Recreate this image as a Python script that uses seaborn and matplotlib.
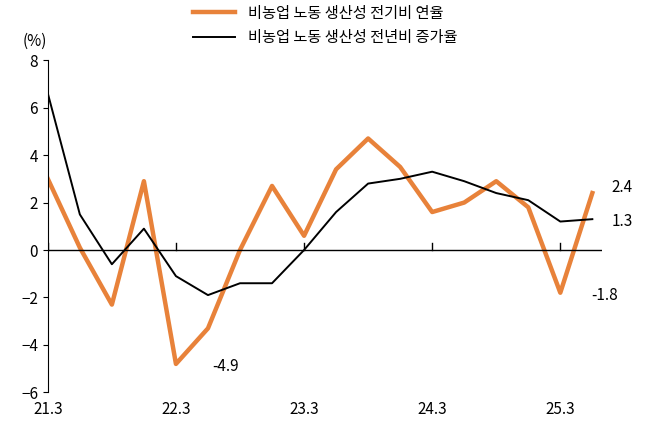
import matplotlib
matplotlib.use('Agg')
import matplotlib.pyplot as plt
from matplotlib import font_manager
import seaborn as sns
import pandas as pd

cjk = [f.name for f in font_manager.fontManager.ttflist if 'CJK' in f.name]
kr = [n for n in cjk if 'KR' in n] or cjk
plt.rcParams['font.family'] = (kr[:1] if kr else []) + ['DejaVu Sans']

quarters = list(range(18))
tick_pos = [0, 4, 8, 12, 16]
tick_labels = ['21.3', '22.3', '23.3', '24.3', '25.3']
qoq = [3.0, 0.1, -2.3, 2.9, -4.8, -3.3, 0.0, 2.7, 0.6, 3.4, 4.7, 3.5, 1.6, 2.0, 2.9, 1.8, -1.8, 2.4]
yoy = [6.6, 1.5, -0.6, 0.9, -1.1, -1.9, -1.4, -1.4, 0.0, 1.6, 2.8, 3.0, 3.3, 2.9, 2.4, 2.1, 1.2, 1.3]
name_qoq = '비농업 노동 생산성 전기비 연율'
name_yoy = '비농업 노동 생산성 전년비 증가율'

df = pd.DataFrame({'q': quarters, name_qoq: qoq, name_yoy: yoy})

fig, ax = plt.subplots(figsize=(6.55, 4.36), dpi=100)
fig.subplots_adjust(left=0.073, right=0.919, top=0.862, bottom=0.1)
sns.lineplot(data=df, x='q', y=name_qoq, color='#E8823A', linewidth=3.2, ax=ax, label=name_qoq)
sns.lineplot(data=df, x='q', y=name_yoy, color='black', linewidth=1.4, ax=ax, label=name_yoy)

ax.set_xlim(0, 17.3)
ax.set_ylim(-6, 8)
ax.set_yticks(range(-6, 9, 2))
ax.set_xticks(tick_pos)
ax.set_xticklabels(tick_labels)
ax.set_xlabel('')
ax.set_ylabel('')
ax.axhline(0, color='black', linewidth=1)
for t in tick_pos:
    ax.plot([t, t], [0, 0.3], color='black', linewidth=1)
for s in ['top', 'right', 'bottom']:
    ax.spines[s].set_visible(False)
ax.tick_params(axis='x', length=0, labelsize=11, pad=6)
ax.tick_params(axis='y', labelsize=11)
ax.text(-0.4, 8.6, '(%)', fontsize=11, ha='center')

ax.annotate('-4.9', (4, -4.8), xytext=(26, -2), textcoords='offset points', fontsize=11, va='center')
ax.annotate('-1.8', (16, -1.8), xytext=(22, -2), textcoords='offset points', fontsize=11, va='center')
ax.annotate('2.4', (17, 2.4), xytext=(14, 4), textcoords='offset points', fontsize=11, va='center')
ax.annotate('1.3', (17, 1.3), xytext=(14, -2), textcoords='offset points', fontsize=11, va='center')

ax.legend(loc='lower center', bbox_to_anchor=(0.5, 1.0), frameon=False, fontsize=11,
          handlelength=2.8, labelspacing=0.5)
fig.savefig('out.png', dpi=100)
